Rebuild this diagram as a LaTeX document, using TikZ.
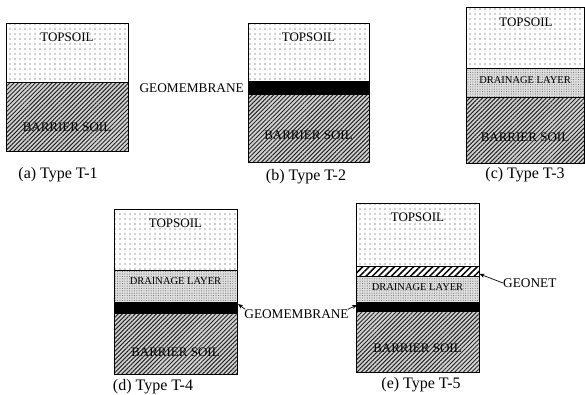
\documentclass[tikz,border=0pt]{standalone}
\usepackage{fontspec}
\setmainfont{Liberation Serif}
\usetikzlibrary{patterns.meta,arrows.meta}
\tikzset{
  topsoil/.style={pattern={Dots[distance=5pt,radius=0.6pt]},pattern color=black!80},
  drain/.style={preaction={fill=gray!25},pattern={Dots[distance=2.4pt,radius=0.55pt]},pattern color=black!55},
  barrier/.style={preaction={fill=gray!35},pattern={Lines[angle=45,distance=3pt,line width=1pt]},pattern color=black!85},
  geonet/.style={preaction={fill=white},pattern={Lines[angle=45,distance=4.5pt,line width=1.5pt]},pattern color=black},
  membrane/.style={fill=black},
  frame/.style={draw=black,line width=0.9pt},
  sep/.style={draw=black,line width=0.7pt},
  lab/.style={font=\fontsize{13}{13}\selectfont,inner sep=0pt},
  dlab/.style={font=\fontsize{10.5}{10.5}\selectfont,inner sep=0pt},
  captxt/.style={font=\fontsize{16}{16}\selectfont,inner sep=0pt},
  side/.style={font=\fontsize{13.3}{13.3}\selectfont,inner sep=0pt},
  arr/.style={-{Stealth[length=5pt,width=4pt]},line width=0.7pt}
}
\begin{document}
\begin{tikzpicture}[x=1pt,y=-1pt]
\useasboundingbox (0,0) rectangle (585,394);
% (a) T-1
\fill[topsoil] (6,23) rectangle (128,82);
\fill[barrier] (6,82) rectangle (128,151);
\draw[sep] (6,82) -- (128,82);
\draw[frame] (6,23) rectangle (128,151);
\node[lab] (a1) at (67,37) {TOPSOIL};
\node[lab] (a2) at (67,127) {BARRIER SOIL};
\node[captxt] (ac) at (58,175) {(a) Type T-1};
% (b) T-2
\fill[topsoil] (248,23) rectangle (369,81);
\fill[membrane] (248,81) rectangle (369,95);
\fill[barrier] (248,95) rectangle (369,162);
\draw[frame] (248,23) rectangle (369,162);
\node[lab] (b1) at (308.5,37) {TOPSOIL};
\node[lab] (b2) at (308.5,135) {BARRIER SOIL};
\node[side,anchor=east] (bg) at (244,88) {GEOMEMBRANE};
\node[captxt] (bc) at (306,177) {(b) Type T-2};
% (c) T-3
\fill[topsoil] (466,7) rectangle (584,68);
\fill[drain] (466,68) rectangle (584,97);
\fill[barrier] (466,97) rectangle (584,163);
\draw[sep] (466,68) -- (584,68) (466,97) -- (584,97);
\draw[frame] (466,7) rectangle (584,163);
\node[lab] (c1) at (526,22) {TOPSOIL};
\node[dlab] (c2) at (525,80) {DRAINAGE LAYER};
\node[lab] (c3) at (525,137) {BARRIER SOIL};
\node[captxt] (cc) at (525,175) {(c) Type T-3};
% (d) T-4
\fill[topsoil] (114,209) rectangle (237,270);
\fill[drain] (114,270) rectangle (237,302);
\fill[membrane] (114,302) rectangle (237,314);
\fill[barrier] (114,314) rectangle (237,374);
\draw[sep] (114,270) -- (237,270);
\draw[frame] (114,209) rectangle (237,374);
\node[lab] (d1) at (175.5,223) {TOPSOIL};
\node[dlab] (d2) at (175.5,281) {DRAINAGE LAYER};
\node[lab] (d3) at (175.5,352) {BARRIER SOIL};
\node[captxt] (dc) at (153,387) {(d) Type T-4};
% (e) T-5
\fill[topsoil] (356,203) rectangle (479,266);
\fill[geonet] (356,266) rectangle (479,276);
\fill[drain] (356,276) rectangle (479,302);
\fill[membrane] (356,302) rectangle (479,312);
\fill[barrier] (356,312) rectangle (479,372);
\draw[sep] (356,266) -- (479,266) (356,276) -- (479,276);
\draw[frame] (356,203) rectangle (479,372);
\node[lab] (e1) at (417.5,217) {TOPSOIL};
\node[dlab] (e2) at (417.5,287) {DRAINAGE LAYER};
\node[lab] (e3) at (417.5,348) {BARRIER SOIL};
\node[captxt] (ec) at (421,385) {(e) Type T-5};
% shared labels and arrows
\node[side] (gm) at (296.5,314) {GEOMEMBRANE};
\coordinate (dtip) at (238,304);
\coordinate (etip) at (357,305);
\draw[arr] ([xshift=1pt]gm.north west) -- (dtip);
\draw[arr] ([xshift=-1pt]gm.north east) -- (etip);
\node[side,anchor=west] (gn) at (503,283) {GEONET};
\coordinate (gtip) at (479.5,274);
\draw[arr] (gn.west) -- (gtip);
\end{tikzpicture}
\end{document}
